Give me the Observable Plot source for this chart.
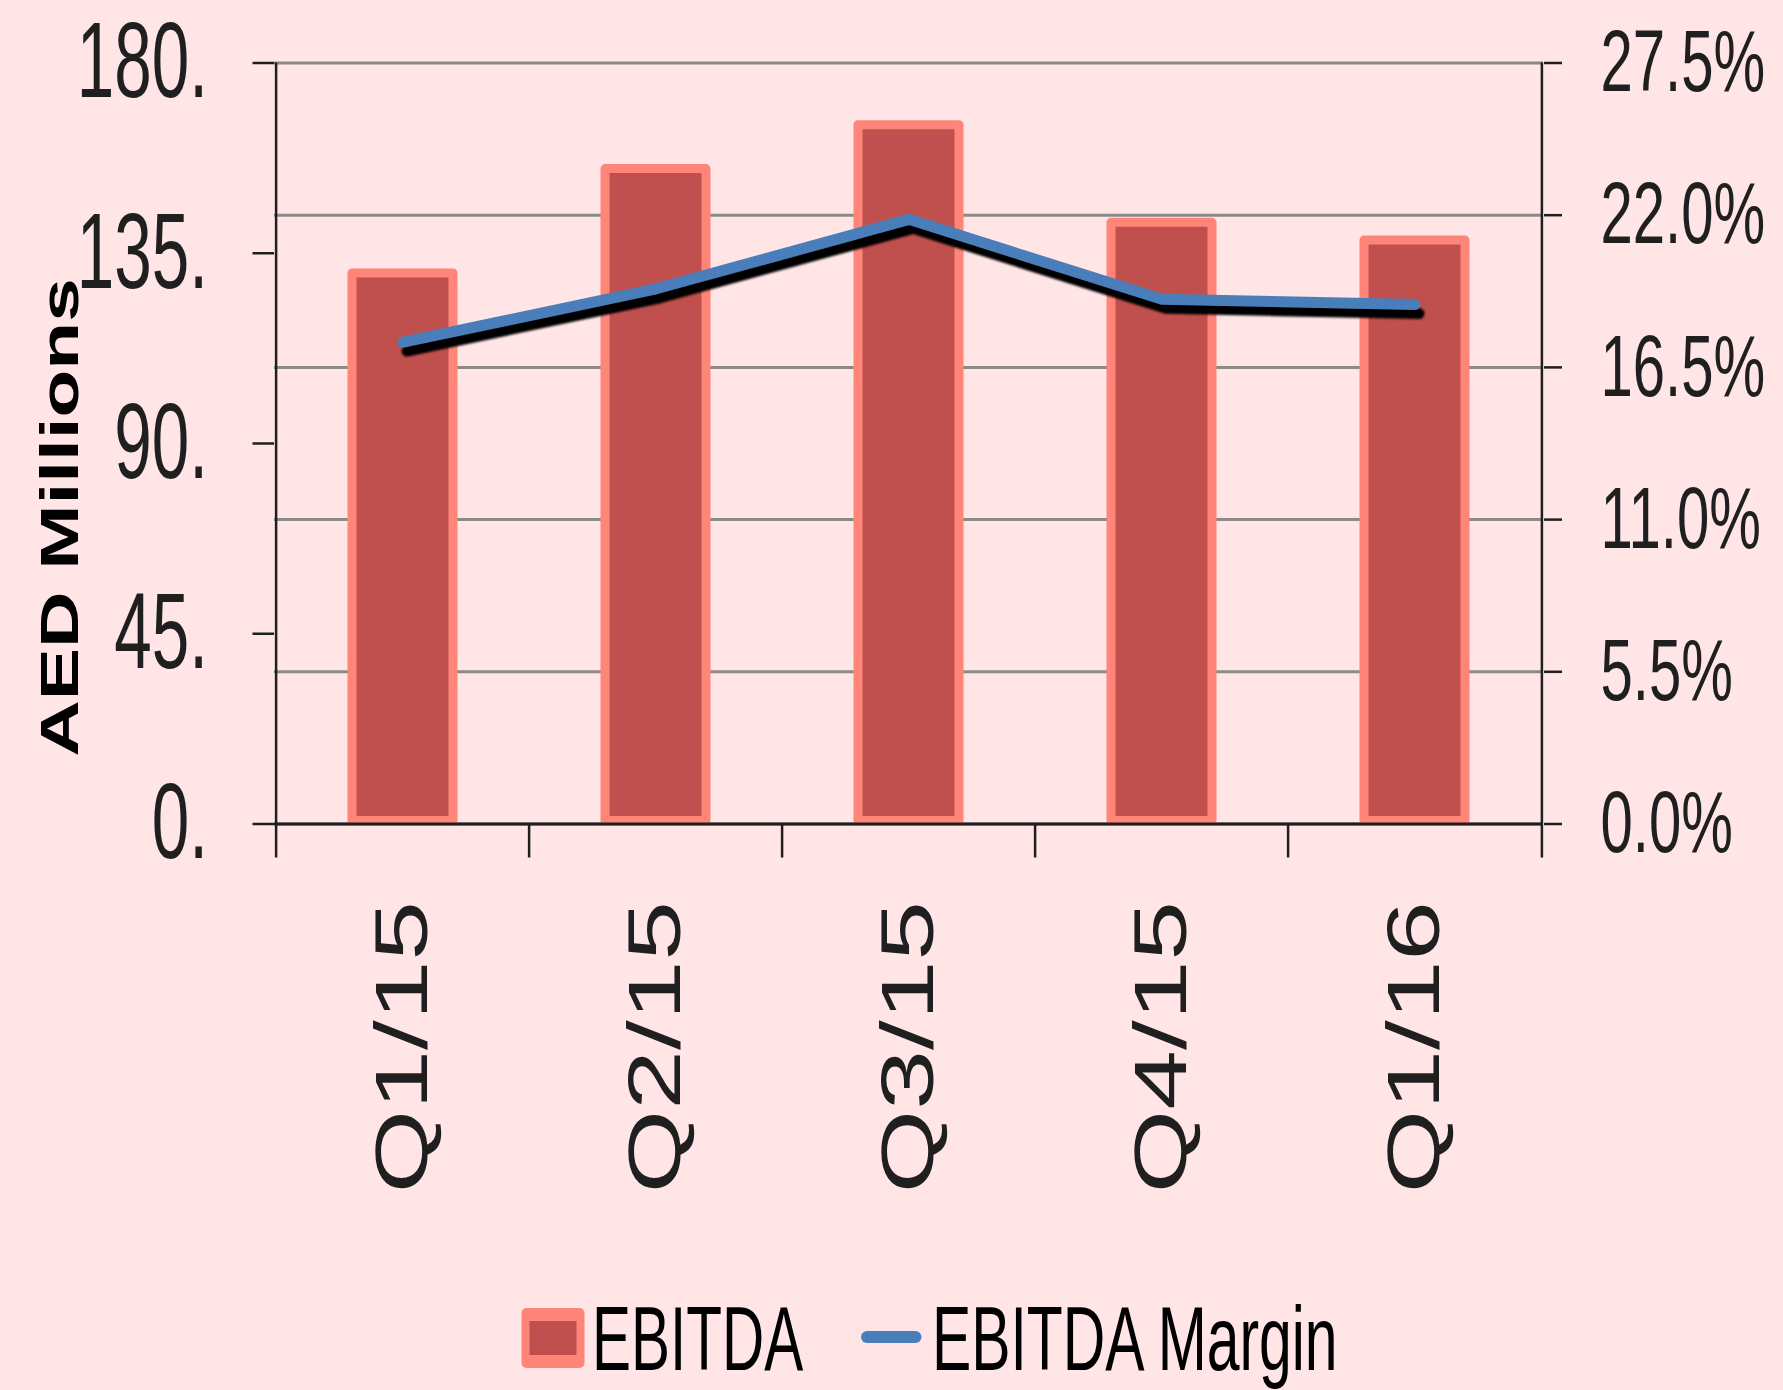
<!DOCTYPE html>
<html><head><meta charset="utf-8">
<script src="https://cdn.jsdelivr.net/npm/d3@7"></script>
<script src="https://cdn.jsdelivr.net/npm/@observablehq/plot@0.6"></script>
<style>
html,body{margin:0;padding:0;background:#FFE5E5;}
#chart,#legend{width:1783px;}
#legend svg{display:block;}
#chart svg{display:block;}
</style></head><body>
<div id="chart"></div>
<div id="legend"></div>
<script>
const quarters = ["Q1/15","Q2/15","Q3/15","Q4/15","Q1/16"];
const ebitda = [130.2, 154.9, 165.3, 142.2, 138.0];
const margin = [17.41, 19.34, 21.85, 18.96, 18.77];
const leftTicks = [0, 45, 90, 135, 180];
const rightTicks = [0, 5.5, 11, 16.5, 22, 27.5];
const yLabel = "AED Millions";
const legendItems = ["EBITDA", "EBITDA Margin"];

const W = 1783, H = 1265, mL = 274, mR = 240, mT = 62.5, mB = 441.5;
const k = 180 / 27.5;
const step = (W - mL - mR) / quarters.length;
const data = quarters.map((q, i) => ({q, ebitda: ebitda[i], pct: margin[i]}));
const ink = "#1f1f1f";
const font = "'Liberation Sans', Arial, sans-serif";

const plot = Plot.plot({
  width: W, height: H, marginLeft: mL, marginRight: mR, marginTop: mT, marginBottom: mB,
  style: {background: "transparent", fontFamily: font, color: ink},
  x: {type: "band", domain: quarters, paddingInner: 0.6, paddingOuter: 0.3},
  y: {domain: [0, 180]},
  marks: [
    Plot.gridY(rightTicks.map(p => p * k), {stroke: "#8a8a8a", strokeOpacity: 1, strokeWidth: 3}),
    Plot.barY(data, {x: "q", y: "ebitda", fill: "#C0504D", stroke: "#FF8579", strokeWidth: 9, strokeLinejoin: "round", insetBottom: 3}),
    Plot.ruleY([0], {stroke: ink, strokeWidth: 3}),
    Plot.ruleX([quarters[0]], {y1: 0, y2: 180, dx: -step / 2, stroke: ink, strokeWidth: 2.5}),
    Plot.ruleX([quarters[quarters.length - 1]], {y1: 0, y2: 180, dx: step / 2, stroke: ink, strokeWidth: 2.5}),
    Plot.axisX({tickSize: 34, tickFormat: () => "", dx: -step / 2, label: null, strokeWidth: 2.5}),
    Plot.axisX([quarters[quarters.length - 1]], {tickSize: 34, tickFormat: () => "", dx: step / 2, label: null, strokeWidth: 2.5}),
    Plot.axisX({tickSize: 0, tickPadding: 77, tickRotate: -90, fontSize: 75, label: null}),
    Plot.axisY(leftTicks, {anchor: "left", tickSize: 21.5, tickPadding: 45, tickFormat: d => d + ".", fontSize: 107, label: null, strokeWidth: 2.5}),
    Plot.axisY(rightTicks.map(p => p * k), {anchor: "right", tickSize: 18, tickPadding: 39, tickFormat: v => (v / k).toFixed(1) + "%", fontSize: 88, label: null, strokeWidth: 2.5}),
    Plot.line(data, {x: "q", y: d => d.pct * k, stroke: "#000", strokeWidth: 11, dx: 4, dy: 9}),
    Plot.line(data, {x: "q", y: d => d.pct * k, stroke: "#4A7EBB", strokeWidth: 11}),
    Plot.text([yLabel], {frameAnchor: "left", textAnchor: "middle", dx: 60 - mL, dy: 517 - (mT + (H - mB)) / 2, rotate: -90, fontSize: 54, fontWeight: "bold", fill: "#000"})
  ]
});
document.getElementById("chart").appendChild(plot);

function squash(nodes, sx) {
  nodes.forEach(n => {
    const t = n.getAttribute("transform") || "";
    n.setAttribute("transform", `${t} scale(${sx},1)`);
  });
}
const yTexts = [...plot.querySelectorAll('g[aria-label="y-axis tick label"] text')];
squash(yTexts.filter(n => !n.textContent.includes("%")), 0.63);
squash(yTexts.filter(n => n.textContent.includes("%")), 0.66);
squash([...plot.querySelectorAll('g[aria-label="x-axis tick label"] text')], 1.43);
squash([...plot.querySelectorAll('g[aria-label="text"] text')], 1.45);
plot.querySelectorAll('g[aria-label="line"]').forEach(g => {
  if (g.getAttribute("stroke") === "#000") g.style.filter = "blur(1.2px)";
});

// legend below the chart
const lg = d3.select("#legend").append("svg").attr("width", W).attr("height", 1390 - H)
  .style("font-family", font);
lg.append("rect").attr("x", 521.5).attr("y", 43).attr("width", 63).attr("height", 60).attr("rx", 5).attr("fill", "#FF8579");
lg.append("rect").attr("x", 529.5).attr("y", 56).attr("width", 47).attr("height", 34).attr("fill", "#C0504D");
lg.append("text").attr("transform", "translate(592,105) scale(0.65,1)").attr("font-size", 90).attr("fill", "#000").text(legendItems[0]);
lg.append("line").attr("x1", 867).attr("x2", 915.5).attr("y1", 72).attr("y2", 72)
  .attr("stroke", "#4A7EBB").attr("stroke-width", 12).attr("stroke-linecap", "round");
lg.append("text").attr("transform", "translate(932,105) scale(0.654,1)").attr("font-size", 90).attr("fill", "#000").text(legendItems[1]);
</script>
</body></html>
